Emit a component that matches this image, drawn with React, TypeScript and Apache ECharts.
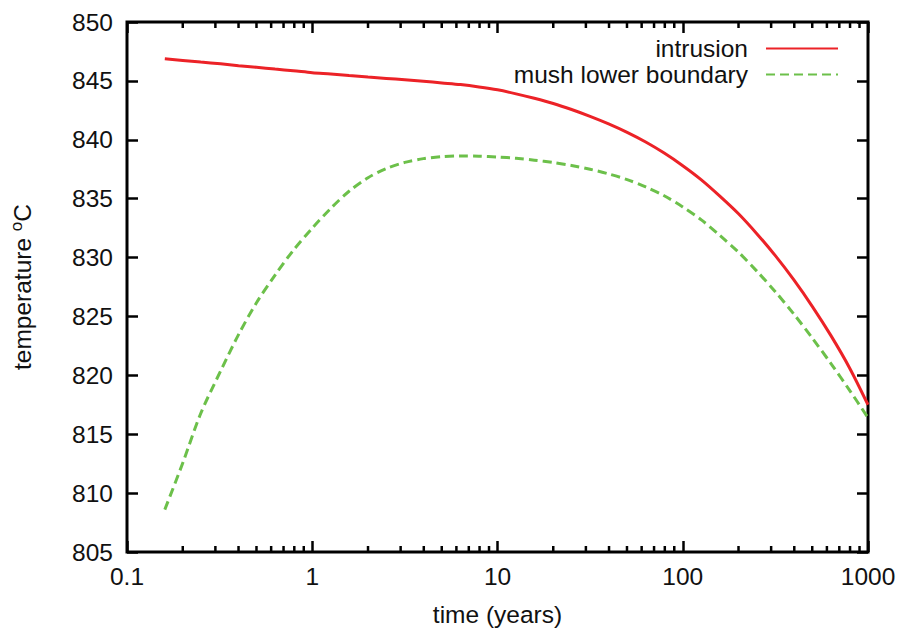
import React, { useEffect, useRef } from "react";
import * as echarts from "echarts";

const times = [0.16, 0.2, 0.25, 0.32, 0.4, 0.5, 0.63, 0.79, 1, 1.26, 1.58, 2, 2.51, 3.16, 3.98, 5.01, 6.31, 7.94, 10, 12.6, 15.8, 20, 25.1, 31.6, 39.8, 50.1, 63.1, 79.4, 100, 126, 158, 200, 251, 316, 398, 501, 631, 794, 1000];
const intrusion = [846.88, 846.74, 846.6, 846.45, 846.29, 846.15, 846.0, 845.86, 845.7, 845.58, 845.45, 845.32, 845.21, 845.1, 844.97, 844.83, 844.69, 844.49, 844.24, 843.9, 843.52, 843.08, 842.57, 841.99, 841.35, 840.63, 839.81, 838.87, 837.8, 836.6, 835.24, 833.72, 832.03, 830.16, 828.1, 825.84, 823.37, 820.65, 817.5];
const mushLower = [808.6, 812.56, 816.76, 820.36, 823.46, 826.16, 828.51, 830.61, 832.5, 834.18, 835.63, 836.78, 837.56, 838.08, 838.4, 838.57, 838.63, 838.61, 838.54, 838.43, 838.27, 838.07, 837.82, 837.5, 837.1, 836.62, 836.0, 835.25, 834.3, 833.2, 831.9, 830.45, 828.85, 827.1, 825.2, 823.15, 821.0, 818.75, 816.4];
const xMinorTicks = [0.2, 0.3, 0.4, 0.5, 0.6, 0.7, 0.8, 0.9, 2, 3, 4, 5, 6, 7, 8, 9, 20, 30, 40, 50, 60, 70, 80, 90, 200, 300, 400, 500, 600, 700, 800, 900];
const seriesNames = ["intrusion", "mush lower boundary"];

const FONT = "'Liberation Sans', Arial, Helvetica, sans-serif";
const TEXT = "#111";
const FS = 24.5;
const Y_MIN = 805;
const Y_MAX = 850;

export default function App() {
  const ref = useRef<HTMLDivElement>(null);
  useEffect(() => {
    if (!ref.current) return;
    const chart = echarts.init(ref.current, null, { renderer: "svg" });
    const fmt = (v: number) => String(+Number(v).toPrecision(6));
    const baseX = {
      type: "log" as const,
      logBase: 10,
      min: 0.1,
      max: 1000,
      splitLine: { show: false },
      axisLine: { show: false },
      axisTick: { show: true, inside: true, length: 11, lineStyle: { color: "#000", width: 2.5 } },
    };
    const baseY = {
      type: "value" as const,
      min: Y_MIN,
      max: Y_MAX,
      interval: 5,
      splitLine: { show: false },
      axisLine: { show: false },
      axisTick: { show: true, inside: true, length: 11, lineStyle: { color: "#000", width: 2.5 } },
    };
    chart.setOption({
      animation: false,
      backgroundColor: "#fff",
      grid: { left: 127, right: 33, top: 22, bottom: 77, show: true, borderColor: "#000", borderWidth: 3, backgroundColor: "transparent" },
      legend: {
        data: seriesNames,
        orient: "vertical",
        align: "right",
        right: 57,
        top: 31,
        itemWidth: 72,
        itemHeight: 14,
        itemGap: 1,
        itemStyle: { opacity: 0 },
        textStyle: { fontSize: FS, fontFamily: FONT, color: TEXT, lineHeight: 24, padding: [0, 13, 0, 0] },
      },
      xAxis: [
        {
          ...baseX,
          position: "bottom",
          name: "time (years)",
          nameLocation: "middle",
          nameGap: 50,
          nameTextStyle: { fontSize: FS, fontFamily: FONT, color: TEXT },
          axisLabel: { fontSize: FS, fontFamily: FONT, color: TEXT, margin: 12, formatter: fmt },
        },
        { ...baseX, position: "top", axisLabel: { show: false } },
      ],
      yAxis: [
        {
          ...baseY,
          position: "left",
          name: "temperature {sup|o}C",
          nameLocation: "middle",
          nameGap: 90,
          nameRotate: 90,
          nameTextStyle: {
            fontSize: FS,
            fontFamily: FONT,
            color: TEXT,
            rich: { sup: { fontSize: 17, fontFamily: FONT, color: TEXT, verticalAlign: "top", padding: [0, 0, 12, 0] } },
          },
          axisLabel: { fontSize: FS, fontFamily: FONT, color: TEXT, margin: 14 },
        },
        { ...baseY, position: "right", axisLabel: { show: false } },
      ],
      series: [
        {
          name: seriesNames[0],
          type: "line",
          data: times.map((t, i) => [t, intrusion[i]]),
          symbol: "none",
          smooth: 0.3,
          lineStyle: { color: "#ec2227", width: 3 },
          itemStyle: { color: "#ec2227" },
          z: 3,
        },
        {
          name: seriesNames[1],
          type: "line",
          data: times.map((t, i) => [t, mushLower[i]]),
          symbol: "none",
          smooth: 0.3,
          lineStyle: { color: "#6cc04a", width: 3, type: [9, 5] },
          itemStyle: { color: "#6cc04a" },
          z: 2,
        },
        {
          name: "minorTicks",
          type: "custom",
          silent: true,
          data: xMinorTicks.map((v) => [v, Y_MIN]),
          encode: { x: 0, y: 1 },
          z: 5,
          renderItem: (params: any, api: any) => {
            const x = api.value(0);
            const b = api.coord([x, Y_MIN]);
            const t = api.coord([x, Y_MAX]);
            const st = { stroke: "#000", lineWidth: 2.5 };
            return {
              type: "group",
              children: [
                { type: "line", shape: { x1: b[0], y1: b[1], x2: b[0], y2: b[1] - 6 }, style: st },
                { type: "line", shape: { x1: t[0], y1: t[1], x2: t[0], y2: t[1] + 6 }, style: st },
              ],
            };
          },
        },
      ],
    });
    return () => chart.dispose();
  }, []);
  return <div ref={ref} style={{ position: "fixed", left: 0, top: 0, width: 901, height: 632 }} />;
}
